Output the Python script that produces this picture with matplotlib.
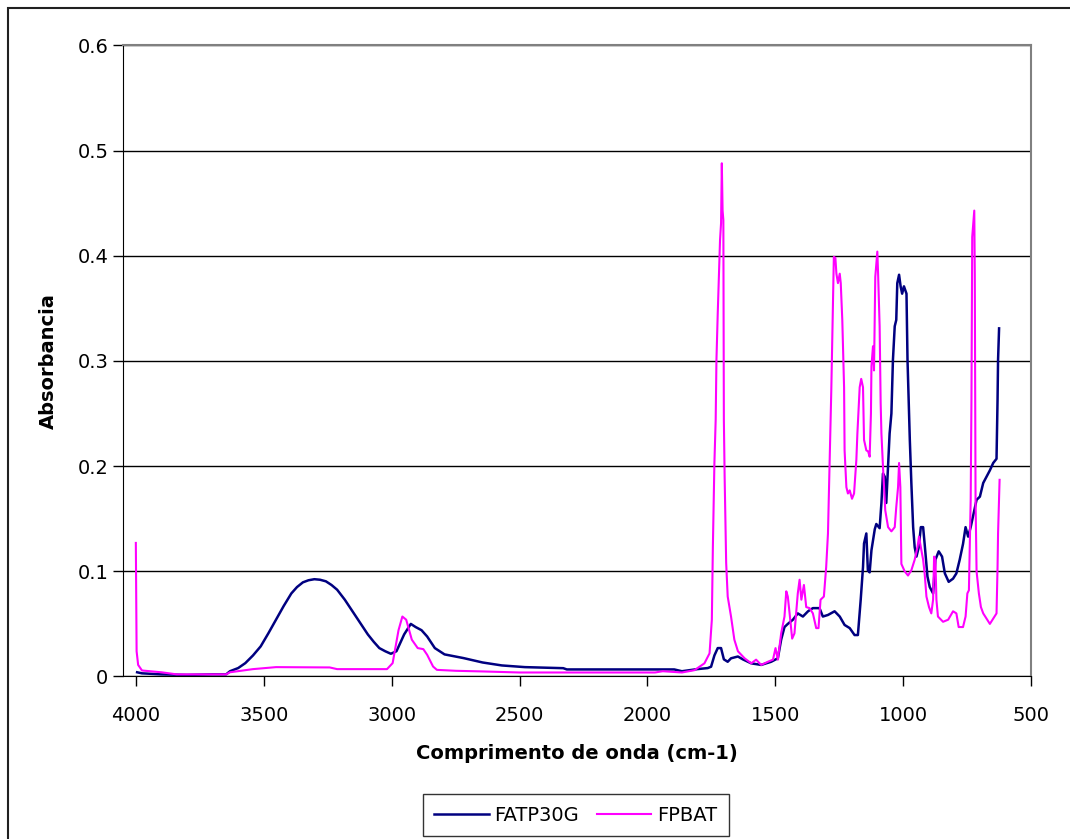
import numpy as np
import matplotlib.pyplot as plt
from matplotlib.patches import Rectangle

# espectros FTIR: numero de onda (cm-1) e absorbancia
fatp_x = [3995, 3976, 3900, 3800, 3700, 3647, 3632, 3600, 3572, 3542, 3512, 3482, 3452, 3422, 3392,
          3370, 3347, 3325, 3302, 3280, 3257, 3235, 3213, 3183, 3153, 3123, 3093, 3070, 3048, 3025,
          3003, 2981, 2951, 2925, 2906, 2883, 2861, 2831, 2793, 2719, 2644, 2569,
          2479, 2329, 2315, 1895, 1865, 1805, 1764, 1751, 1738, 1725, 1712, 1701, 1686, 1673, 1646,
          1627, 1594, 1555, 1516, 1490, 1477, 1464, 1451, 1431, 1412, 1392, 1372, 1353, 1327, 1314,
          1294, 1268, 1248, 1229, 1209, 1190, 1177, 1166, 1157, 1153, 1144, 1138, 1131, 1124, 1111,
          1105, 1092, 1085, 1079, 1072, 1066, 1059, 1053, 1046, 1040, 1033, 1027, 1023, 1016, 1010,
          1004, 997, 987, 983, 974, 968, 961, 955, 948, 939, 931, 922, 916, 905, 896,
          883, 874, 861, 848, 837, 822, 805, 792, 779, 766, 756, 746, 736, 727, 713,
          700, 687, 674, 661, 648, 635, 631, 629, 625]
fatp_y = [0.004, 0.003, 0.002, 0.0015, 0.002, 0.002, 0.005, 0.008, 0.0127, 0.020, 0.0286, 0.041, 0.054, 0.067, 0.079,
          0.085, 0.0895, 0.0915, 0.0925, 0.092, 0.0905, 0.087, 0.0825, 0.073, 0.062, 0.051, 0.040, 0.033, 0.027, 0.024,
          0.0216, 0.024, 0.040, 0.050, 0.047, 0.044, 0.038, 0.027, 0.021, 0.0175, 0.0133, 0.0105,
          0.0089, 0.0079, 0.0067, 0.0067, 0.005, 0.007, 0.008, 0.0093, 0.020, 0.027, 0.027, 0.0163, 0.014, 0.0173, 0.019,
          0.0163, 0.0125, 0.011, 0.014, 0.0173, 0.035, 0.047, 0.050, 0.054, 0.060, 0.057, 0.062, 0.065, 0.065, 0.057,
          0.0585, 0.062, 0.057, 0.049, 0.046, 0.0394, 0.0394, 0.073, 0.104, 0.1265, 0.136, 0.101, 0.099, 0.12, 0.14,
          0.145, 0.141, 0.165, 0.193, 0.19, 0.165, 0.2, 0.231, 0.25, 0.301, 0.333, 0.339, 0.374, 0.382, 0.371,
          0.364, 0.371, 0.364, 0.301, 0.225, 0.184, 0.142, 0.123, 0.114, 0.123, 0.142, 0.142, 0.126, 0.095, 0.085,
          0.079, 0.111, 0.119, 0.114, 0.098, 0.09, 0.093, 0.098, 0.111, 0.126, 0.142, 0.133, 0.142, 0.152, 0.168,
          0.171, 0.184, 0.19, 0.196, 0.203, 0.207, 0.263, 0.301, 0.331]

fpbat_x = [4000, 3997, 3991, 3976, 3900, 3840, 3647, 3632, 3542, 3452, 3242, 3213, 3018, 2996, 2973,
           2958, 2943, 2921, 2898, 2876, 2861, 2838, 2823, 2748, 2644, 2500, 1970, 1940, 1865, 1816,
           1777, 1757, 1748, 1744, 1738, 1733, 1730, 1725, 1716, 1712, 1709, 1706, 1703, 1701, 1698,
           1692, 1686, 1673, 1660, 1646, 1620, 1594, 1575, 1555, 1529, 1509, 1499, 1490, 1477, 1464,
           1457, 1451, 1444, 1434, 1425, 1412, 1405, 1398, 1388, 1379, 1366, 1353, 1340, 1331, 1323,
           1310, 1301, 1294, 1288, 1284, 1281, 1274, 1271, 1265, 1261, 1255, 1248, 1244, 1238, 1231,
           1229, 1222, 1216, 1209, 1200, 1192, 1183, 1179, 1173, 1170, 1164, 1157, 1153, 1144, 1137,
           1131, 1126, 1124, 1118, 1114, 1109, 1101, 1098, 1092, 1088, 1085, 1079, 1070, 1059, 1046,
           1033, 1027, 1020, 1016, 1011, 1007, 994, 981, 968, 955, 944, 938, 931, 922, 916,
           909, 899, 890, 883, 879, 874, 870, 864, 844, 824, 805, 792, 783, 766, 756,
           749, 743, 736, 733, 730, 722, 720, 717, 713, 704, 696, 687, 674, 661, 648,
           635, 631, 629, 623]
fpbat_y = [0.127, 0.024, 0.011, 0.0057, 0.004, 0.002, 0.002, 0.004, 0.007, 0.0089, 0.0086, 0.007, 0.007, 0.0127, 0.044,
           0.057, 0.054, 0.035, 0.027, 0.026, 0.0206, 0.0095, 0.0063, 0.0054, 0.0048, 0.0038, 0.0038, 0.005, 0.0038, 0.006,
           0.0125, 0.022, 0.054, 0.123, 0.203, 0.244, 0.301, 0.345, 0.415, 0.431, 0.488, 0.443, 0.434, 0.244, 0.190,
           0.108, 0.076, 0.057, 0.035, 0.024, 0.0173, 0.0125, 0.016, 0.011, 0.014, 0.016, 0.027, 0.016, 0.041, 0.057,
           0.081, 0.076, 0.060, 0.036, 0.041, 0.079, 0.092, 0.073, 0.087, 0.066, 0.065, 0.060, 0.046, 0.046, 0.073,
           0.076, 0.104, 0.136, 0.199, 0.244, 0.272, 0.364, 0.399, 0.398, 0.383, 0.374, 0.383, 0.374, 0.339, 0.275,
           0.215, 0.180, 0.174, 0.177, 0.169, 0.174, 0.206, 0.231, 0.26, 0.275, 0.283, 0.275, 0.225, 0.215, 0.214,
           0.209, 0.25, 0.295, 0.314, 0.291, 0.38, 0.404, 0.383, 0.333, 0.26, 0.231, 0.2, 0.158, 0.142, 0.138,
           0.142, 0.161, 0.18, 0.203, 0.18, 0.107, 0.1, 0.096, 0.101, 0.111, 0.123, 0.133, 0.123, 0.111, 0.098,
           0.076, 0.066, 0.060, 0.073, 0.114, 0.111, 0.073, 0.057, 0.052, 0.054, 0.062, 0.06, 0.047, 0.047, 0.057,
           0.079, 0.082, 0.168, 0.263, 0.418, 0.443, 0.383, 0.168, 0.1, 0.079, 0.066, 0.06, 0.055, 0.05, 0.055,
           0.06, 0.104, 0.136, 0.187]

plt.rcParams['font.family'] = 'DejaVu Sans'
plt.rcParams['font.size'] = 14

fig = plt.figure(figsize=(10.7, 8.39), dpi=100)
ax = fig.add_axes([0.115, 0.1937, 0.8486, 0.7521])

ax.plot(fatp_x, fatp_y, color='#000080', lw=1.8, label='FATP30G')
ax.plot(fpbat_x, fpbat_y, color='#FF00FF', lw=1.5, label='FPBAT')

ax.set_xlim(4050, 500)
ax.set_ylim(0, 0.6)
ax.set_xticks(np.arange(4000, 499, -500))
ax.set_yticks(np.arange(0, 0.61, 0.1))
ax.set_yticklabels(['0', '0.1', '0.2', '0.3', '0.4', '0.5', '0.6'])
ax.yaxis.grid(True, color='black', lw=1)
ax.set_axisbelow(True)
ax.tick_params(direction='out', length=7, width=1, colors='black', labelsize=14)
ax.tick_params(axis='x', pad=14)

for s in ['top', 'right']:
    ax.spines[s].set_color('#808080')
    ax.spines[s].set_linewidth(1.5)
for s in ['left', 'bottom']:
    ax.spines[s].set_color('black')

ax.set_xlabel('Comprimento de onda (cm-1)', fontsize=14, fontweight='bold', labelpad=14)
ax.set_ylabel('Absorbancia', fontsize=14, fontweight='bold', labelpad=14)

leg = fig.legend(loc='center', bbox_to_anchor=(0.538, 0.0285), ncol=2, frameon=True,
                 fancybox=False, edgecolor='black', fontsize=14, handlelength=2.8,
                 handletextpad=0.3, columnspacing=0.9, borderpad=0.6, borderaxespad=0)
leg.get_frame().set_linewidth(1)

# moldura externa do grafico
fig.patches.append(Rectangle((0.0075, -0.05), 1.2, 0.9905 + 0.05, transform=fig.transFigure,
                             fill=False, edgecolor='#202020', lw=1.5))

fig.savefig('out.png', dpi=100)
